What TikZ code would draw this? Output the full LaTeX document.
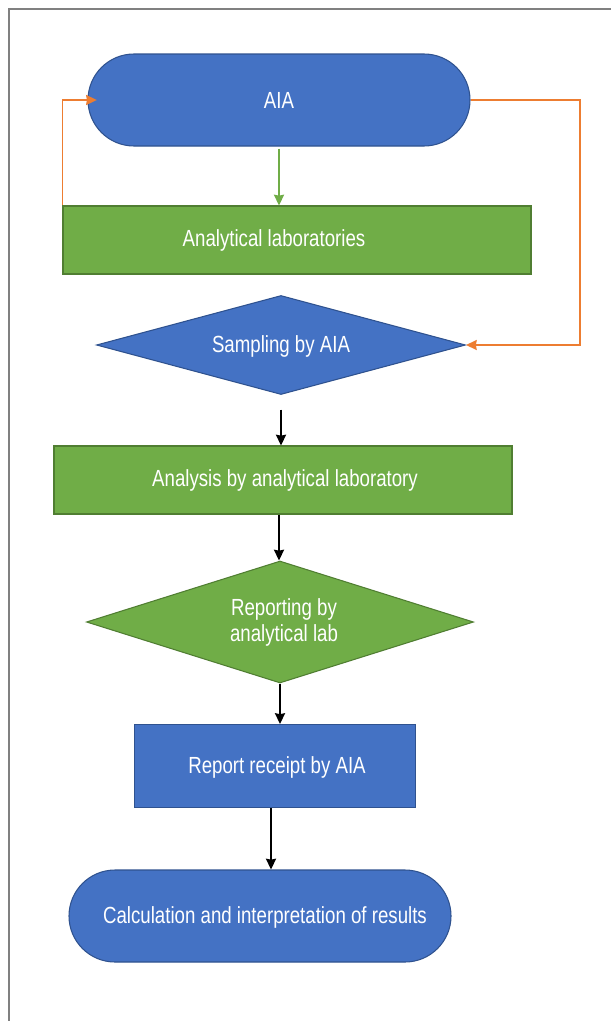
\documentclass[tikz,border=0pt]{standalone}
\usepackage{fontspec}
\setmainfont{Liberation Sans}[FakeStretch=0.8]
\usetikzlibrary{shapes.geometric,shapes.misc,arrows.meta}

\definecolor{aiablue}{HTML}{4472C4}
\definecolor{aiablueline}{HTML}{2F528F}
\definecolor{labgreen}{HTML}{70AD47}
\definecolor{labgreenline}{HTML}{507E32}
\definecolor{loopcol}{HTML}{ED7D31}

\begin{document}
\begin{tikzpicture}[x=0.75pt, y=-0.75pt, every node/.style={text=white, font=\fontsize{17.5}{19}\selectfont, inner sep=0pt}, >={Stealth[length=8pt, width=7.5pt, inset=0.6pt]}]

\tikzstyle{term}=[rounded rectangle, draw=aiablueline, fill=aiablue, line width=0.8pt, minimum width=286.5pt, minimum height=69pt]
\tikzstyle{bluebox}=[rectangle, draw=aiablueline, fill=aiablue, line width=0.8pt]
\tikzstyle{greenbox}=[rectangle, draw=labgreenline, fill=labgreen, line width=0.8pt]
\tikzstyle{bluedia}=[diamond, aspect=4, draw=aiablueline, fill=aiablue, line width=0.8pt]
\tikzstyle{greendia}=[diamond, aspect=4, draw=labgreenline, fill=labgreen, line width=0.8pt]
\tikzstyle{flow}=[->, line width=1.5pt]
\tikzstyle{loop}=[->, loopcol, line width=1.1pt]

\useasboundingbox (0,0) rectangle (611,1021);
\draw[gray, line width=1.1pt] (9,1021) -- (9,9) -- (611,9);

\node[term] (aia) at (279,100) {AIA};
\node[greenbox, minimum width=351pt, minimum height=51pt] (labs) at (297,240) {};
\node (labstxt) at (274,240) {Analytical laboratories};
\node[bluedia, minimum width=276.75pt, minimum height=74.25pt] (samp) at (281,345) {};
\node (samptxt) at (281,346) {Sampling by AIA};
\node[greenbox, minimum width=343.5pt, minimum height=51pt] (anl) at (283,480) {};
\node (anltxt) at (285,480) {Analysis by analytical laboratory};
\node[greendia, minimum width=290.25pt, minimum height=91.5pt] (rep) at (280,622) {};
\node[align=center, font=\fontsize{17.5}{19.5}\selectfont] (reptxt) at (284,622) {Reporting by\\analytical lab};
\node[bluebox, minimum width=210.75pt, minimum height=62.25pt] (rcpt) at (275,766) {};
\node (rcpttxt) at (277,767) {Report receipt by AIA};
\node[term] (calc) at (260,916) {};
\node (calctxt) at (265,917) {Calculation and interpretation of results};

% main flow
\draw[flow, labgreen] ([yshift=-1.5pt]aia.south) -- (aia.south |- labs.north);
\draw[flow] ([yshift=-11pt]samp.south) -- (samp.south |- anl.north);
\draw[flow] ([xshift=-3pt]anl.south) -- ([xshift=-3pt]anl.south |- rep.north);
\draw[flow] (rep.south) -- (rep.south |- rcpt.north);
\draw[flow] ([xshift=-3pt]rcpt.south) -- ([xshift=-3pt]rcpt.south |- calc.north);

% feedback loops
\coordinate (rt) at (580,100);
\draw[loop] (labs.north west) -- (labs.north west |- aia.west) -- ([xshift=7pt]aia.west);
\draw[loop] (aia.east) -- (rt) -- (rt |- samp.east) -- (samp.east);
\end{tikzpicture}
\end{document}
